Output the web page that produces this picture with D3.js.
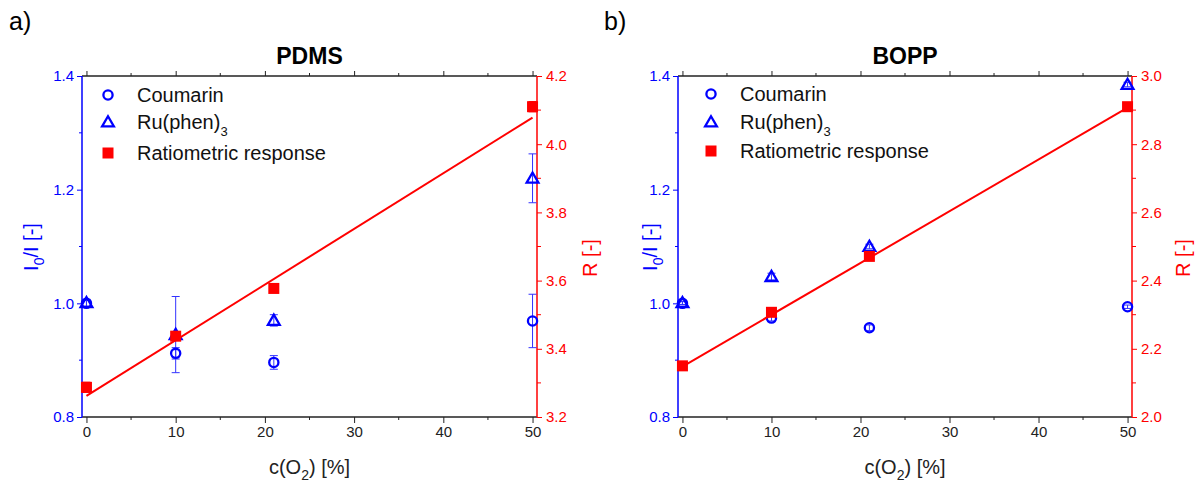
<!DOCTYPE html>
<html><head><meta charset="utf-8">
<script src="https://cdn.jsdelivr.net/npm/d3@7"></script>
<style>body{margin:0;background:#fff;} text{font-family:"Liberation Sans",Arial,sans-serif;}</style>
</head><body>
<svg id="c" width="1195" height="483"></svg>
<script>
// ---- data ----
const concentrations = [0, 10, 21, 50];
const xTicks = [0, 10, 20, 30, 40, 50];
// Panel a (PDMS)
const pdmsCoumarin = [1.000, 0.912, 0.896, 0.969];
const pdmsCoumarinErr = [0.005, 0.010, 0.012, 0.047];
const pdmsRu = [1.001, 0.945, 0.970, 1.220];
const pdmsRuErr = [0.006, 0.067, 0.010, 0.043];
const pdmsRatio = [3.287, 3.437, 3.577, 4.110];
const pdmsRatioErr = [0.015, 0.010, 0.006, 0.015];
const pdmsFitX = [0, 50];
const pdmsFitR = [3.262, 4.078];
const pdmsLeftTicks = [0.8, 1.0, 1.2, 1.4];
const pdmsRightTicks = [3.2, 3.4, 3.6, 3.8, 4.0, 4.2];
// Panel b (BOPP)
const boppCoumarin = [1.000, 0.974, 0.957, 0.994];
const boppCoumarinErr = [0.003, 0.005, 0.005, 0.003];
const boppRu = [1.001, 1.047, 1.100, 1.385];
const boppRuErr = [0.003, 0.006, 0.004, 0.004];
const boppRatio = [2.150, 2.307, 2.471, 2.910];
const boppRatioErr = [0.004, 0.006, 0.006, 0.006];
const boppFitX = [0, 50];
const boppFitR = [2.148, 2.907];
const boppLeftTicks = [0.8, 1.0, 1.2, 1.4];
const boppRightTicks = [2.0, 2.2, 2.4, 2.6, 2.8, 3.0];
const legendLabels = ["Coumarin", "Ru(phen)", "Ratiometric response"];

const BLUE = "#0000ff", RED = "#ff0000";
const svg = d3.select("#c");

function drawPanel(p) {
  const g = svg.append("g");
  const x = d3.scaleLinear().domain([-0.5, 50.5]).range([p.x0, p.x1]);
  const yL = d3.scaleLinear().domain(p.leftDom).range([p.y1, p.y0]);
  const yR = d3.scaleLinear().domain(p.rightDom).range([p.y1, p.y0]);

  // bottom axis
  const bx = d3.axisBottom(x).tickValues(xTicks).tickSize(6).tickPadding(3).tickFormat(d3.format("d"));
  const bg = g.append("g").attr("transform", `translate(0,${p.y1})`).call(bx);
  bg.select(".domain").attr("stroke", "#222").attr("stroke-width", 1.5).attr("d", `M${p.x0},0H${p.x1}`);
  bg.selectAll(".tick line").attr("stroke", "#222").attr("stroke-width", 1);
  bg.selectAll(".tick text").attr("fill", "#222").attr("font-size", 15);
  const minorX = d3.range(5, 50, 10);
  g.append("g").selectAll("line").data(minorX).join("line")
    .attr("x1", d => x(d)).attr("x2", d => x(d)).attr("y1", p.y1).attr("y2", p.y1 + 3)
    .attr("stroke", "#222");
  // top axis
  const tx = d3.axisTop(x).tickValues(xTicks).tickSize(5).tickFormat("");
  const tg = g.append("g").attr("transform", `translate(0,${p.y0})`).call(tx);
  tg.select(".domain").attr("stroke", "#222").attr("stroke-width", 1.5).attr("d", `M${p.x0},0H${p.x1}`);
  tg.selectAll(".tick line").attr("stroke", "#222");
  g.append("g").selectAll("line").data(minorX).join("line")
    .attr("x1", d => x(d)).attr("x2", d => x(d)).attr("y1", p.y0).attr("y2", p.y0 - 3)
    .attr("stroke", "#222");

  // left axis
  const la = d3.axisLeft(yL).tickValues(p.leftTicks).tickSize(5).tickPadding(3).tickFormat(d3.format(".1f"));
  const lg = g.append("g").attr("transform", `translate(${p.x0},0)`).call(la);
  lg.select(".domain").attr("stroke", BLUE).attr("stroke-width", 1.5).attr("d", `M0,${p.y0}V${p.y1}`);
  lg.selectAll(".tick line").attr("stroke", BLUE);
  lg.selectAll(".tick text").attr("fill", BLUE).attr("font-size", 15);
  const minorL = p.leftTicks.slice(0, -1).map((d, i) => (d + p.leftTicks[i + 1]) / 2);
  g.append("g").selectAll("line").data(minorL).join("line")
    .attr("x1", p.x0).attr("x2", p.x0 - 3).attr("y1", d => yL(d)).attr("y2", d => yL(d)).attr("stroke", BLUE);

  // right axis
  const ra = d3.axisRight(yR).tickValues(p.rightTicks).tickSize(5).tickPadding(4).tickFormat(d3.format(".1f"));
  const rg = g.append("g").attr("transform", `translate(${p.x1},0)`).call(ra);
  rg.select(".domain").attr("stroke", RED).attr("stroke-width", 1.5).attr("d", `M0,${p.y0}V${p.y1}`);
  rg.selectAll(".tick line").attr("stroke", RED);
  rg.selectAll(".tick text").attr("fill", RED).attr("font-size", 15);
  const minorR = p.rightTicks.slice(0, -1).map((d, i) => (d + p.rightTicks[i + 1]) / 2);
  g.append("g").selectAll("line").data(minorR).join("line")
    .attr("x1", p.x1).attr("x2", p.x1 + 4).attr("y1", d => yR(d)).attr("y2", d => yR(d)).attr("stroke", RED);

  // error bars helper
  function errBars(vals, errs, scale, color) {
    const eg = g.append("g").attr("stroke", color).attr("stroke-width", 1).attr("fill", "none");
    concentrations.forEach((c, i) => {
      const cx = x(c), t = scale(vals[i] + errs[i]), b = scale(vals[i] - errs[i]);
      eg.append("line").attr("x1", cx).attr("x2", cx).attr("y1", t).attr("y2", b);
      eg.append("line").attr("x1", cx - 4).attr("x2", cx + 4).attr("y1", t).attr("y2", t);
      eg.append("line").attr("x1", cx - 4).attr("x2", cx + 4).attr("y1", b).attr("y2", b);
    });
  }
  errBars(p.coum, p.coumErr, yL, "#3333ff");
  errBars(p.ru, p.ruErr, yL, "#3333ff");
  errBars(p.ratio, p.ratioErr, yR, RED);

  const tri = d3.symbol().type(d3.symbolTriangle).size(60);
  // coumarin circles
  g.append("g").selectAll("circle").data(p.coum).join("circle")
    .attr("cx", (d, i) => x(concentrations[i])).attr("cy", d => yL(d)).attr("r", 4.6)
    .attr("fill", "none").attr("stroke", BLUE).attr("stroke-width", 2.3);
  // ru triangles
  g.append("g").selectAll("path").data(p.ru).join("path")
    .attr("d", tri).attr("transform", (d, i) => `translate(${x(concentrations[i])},${yL(d) + 1})`)
    .attr("fill", "none").attr("stroke", BLUE).attr("stroke-width", 2.3);
  // ratio squares
  g.append("g").selectAll("rect").data(p.ratio).join("rect")
    .attr("x", (d, i) => x(concentrations[i]) - 5.5).attr("y", d => yR(d) - 5.5)
    .attr("width", 11).attr("height", 11).attr("fill", RED);
  // fit line
  const fit = p.fitX.map((d, i) => [d, p.fitR[i]]);
  g.append("path").datum(fit)
    .attr("d", d3.line().x(d => x(d[0])).y(d => yR(d[1])))
    .attr("stroke", RED).attr("stroke-width", 2).attr("fill", "none");

  // legend
  const lgx = p.legX, rows = p.legY;
  g.append("circle").attr("cx", lgx).attr("cy", rows[0]).attr("r", 4.6)
    .attr("fill", "none").attr("stroke", BLUE).attr("stroke-width", 2.3);
  g.append("path").attr("d", tri).attr("transform", `translate(${lgx},${rows[1] + 1})`)
    .attr("fill", "none").attr("stroke", BLUE).attr("stroke-width", 2.3);
  g.append("rect").attr("x", lgx - 5.5).attr("y", rows[2] - 5.5).attr("width", 11).attr("height", 11).attr("fill", RED);
  const lt = (i) => g.append("text").attr("x", lgx + 29).attr("y", rows[i] + 7)
    .attr("font-size", 20).attr("fill", "#111");
  lt(0).text(legendLabels[0]);
  const t1 = lt(1); t1.append("tspan").text(legendLabels[1]);
  t1.append("tspan").attr("dy", 7).attr("font-size", 13).text("3");
  lt(2).text(legendLabels[2]);

  // title
  g.append("text").attr("x", (p.x0 + p.x1) / 2).attr("y", 64).attr("text-anchor", "middle")
    .attr("font-size", 23).attr("font-weight", "bold").attr("fill", "#000").text(p.title);
  // panel letter
  g.append("text").attr("x", p.letterX).attr("y", 30).attr("font-size", 25).attr("fill", "#000").text(p.letter);
  // x title
  const xt = g.append("text").attr("x", (p.x0 + p.x1) / 2).attr("y", 474).attr("text-anchor", "middle")
    .attr("font-size", 20).attr("fill", "#222");
  xt.append("tspan").text("c(O");
  xt.append("tspan").attr("dy", 6).attr("font-size", 14).text("2");
  xt.append("tspan").attr("dy", -6).text(") [%]");
  // left y title
  const yt = g.append("text").attr("transform", `translate(${p.ylX},247) rotate(-90)`)
    .attr("text-anchor", "middle").attr("font-size", 20).attr("fill", BLUE);
  yt.append("tspan").text("I");
  yt.append("tspan").attr("dy", 6).attr("font-size", 14).text("0");
  yt.append("tspan").attr("dy", -6).text("/I [-]");
  // right y title
  g.append("text").attr("transform", `translate(${p.yrX},258) rotate(-90)`)
    .attr("text-anchor", "middle").attr("font-size", 20).attr("fill", RED).text("R [-]");
}

drawPanel({x0: 82, x1: 537, y0: 76, y1: 417, leftDom: [0.8, 1.4], rightDom: [3.2, 4.2],
  leftTicks: pdmsLeftTicks, rightTicks: pdmsRightTicks,
  coum: pdmsCoumarin, coumErr: pdmsCoumarinErr, ru: pdmsRu, ruErr: pdmsRuErr,
  ratio: pdmsRatio, ratioErr: pdmsRatioErr, fitX: pdmsFitX, fitR: pdmsFitR,
  legX: 108, legY: [95, 122, 153], title: "PDMS", letter: "a)", letterX: 9, ylX: 38, yrX: 597});
drawPanel({x0: 678, x1: 1132, y0: 76, y1: 417, leftDom: [0.8, 1.4], rightDom: [2.0, 3.0],
  leftTicks: boppLeftTicks, rightTicks: boppRightTicks,
  coum: boppCoumarin, coumErr: boppCoumarinErr, ru: boppRu, ruErr: boppRuErr,
  ratio: boppRatio, ratioErr: boppRatioErr, fitX: boppFitX, fitR: boppFitR,
  legX: 711, legY: [94, 122, 151], title: "BOPP", letter: "b)", letterX: 604, ylX: 657, yrX: 1190});
</script>
</body></html>
